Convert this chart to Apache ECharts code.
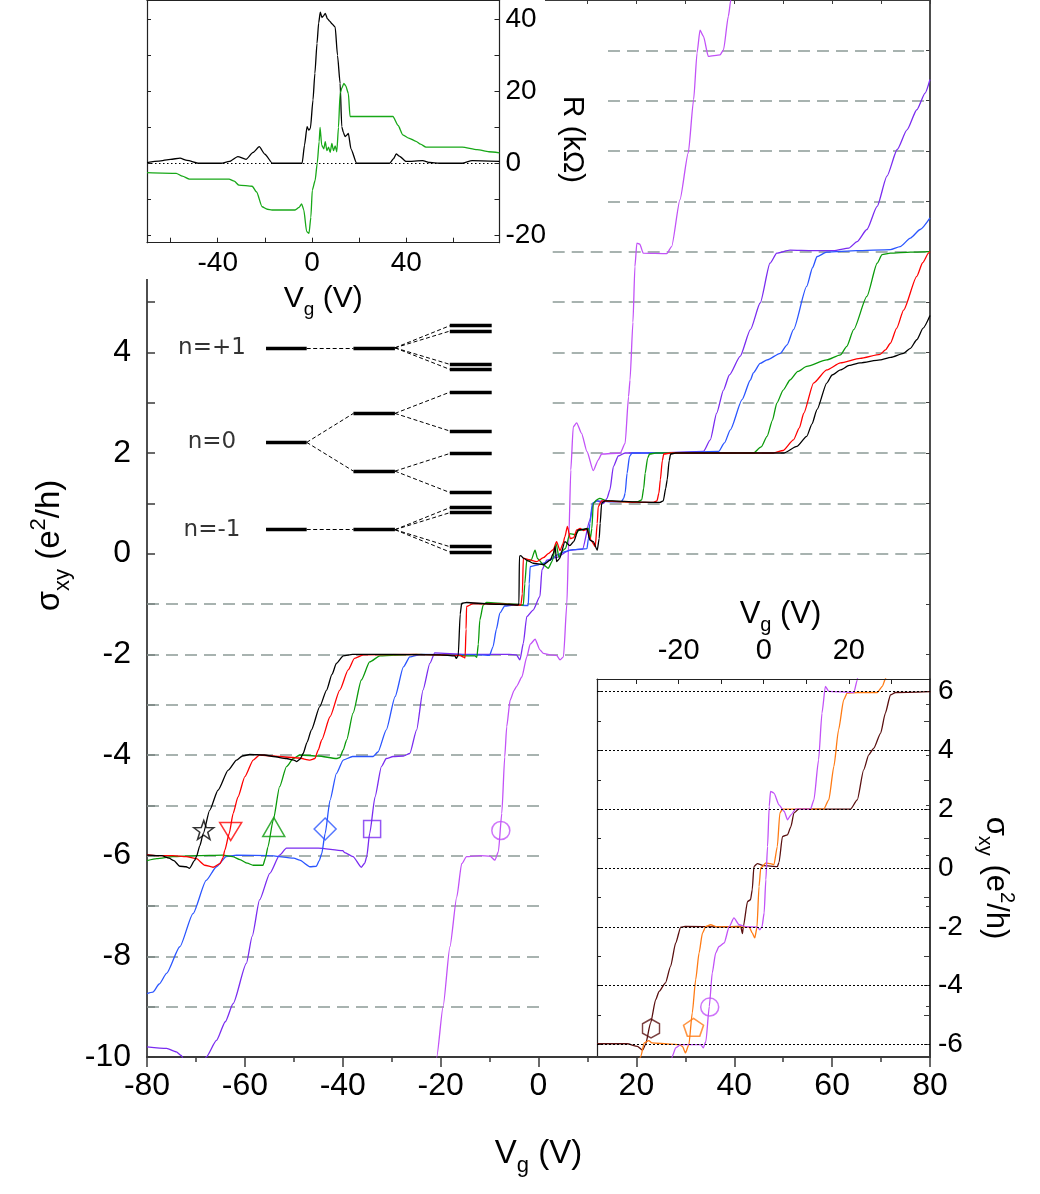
<!DOCTYPE html>
<html>
<head>
<meta charset="utf-8">
<script src="https://cdn.jsdelivr.net/npm/echarts@6/dist/echarts.min.js"></script>
<style>
  html, body { margin: 0; padding: 0; background: #fff; }
  #chart { width: 1040px; height: 1194px; }
</style>
</head>
<body>
<div id="chart"></div>
<script>
// ---------------- Hall conductivity sweeps, sigma_xy (e^2/h) vs V_g (V) ----------------
const sweepBlack = [[-80,-5.99],[-77,-6.0],[-75.5,-6.05],[-74.5,-6.1],[-73.3,-6.21],[-72,-6.22],[-71.3,-6.25],[-70.3,-6.1],[-69.9,-6.02],[-69.2,-5.8],[-68.5,-5.56],[-67.2,-5.1],[-65.5,-4.7],[-63.4,-4.3],[-61.7,-4.1],[-60.5,-4.02],[-59,-3.99],[-56,-4.0],[-54.2,-4.03],[-51.5,-4.07],[-50,-4.1],[-49.4,-4.13],[-48.7,-4.08],[-48.1,-3.97],[-47.3,-3.75],[-46.4,-3.5],[-44.7,-3.04],[-43.3,-2.71],[-42.2,-2.4],[-41.3,-2.18],[-39.9,-2.03],[-38,-2.0],[-30,-2.0],[-20,-2.01],[-17.1,-2.03],[-16.8,-2.08],[-16.4,-2.02],[-16.0,-1.2],[-15.7,-0.99],[-14.7,-0.97],[-10,-1.0],[-6,-1.01],[-4.2,-1.02],[-4.0,-1.0],[-3.9,-0.05],[-3.6,-0.04],[-3.1,-0.09],[-2,-0.15],[-1.1,-0.19],[1.0,-0.22],[2.4,-0.13],[3.0,0.0],[3.4,0.14],[3.7,-0.16],[4.3,-0.1],[5.4,0.24],[6.4,0.16],[7.2,0.24],[8.1,0.47],[9.0,0.48],[9.9,0.5],[10.5,0.27],[11.2,0.24],[12.0,0.07],[12.4,0.3],[12.6,0.6],[12.9,1.0],[13.6,1.05],[15,1.05],[20,1.03],[23.5,1.02],[24.8,1.02],[25.5,1.05],[26.0,1.3],[26.3,1.47],[26.7,1.85],[27.0,1.98],[28,2.0],[40,2.0],[48,2.0],[50.1,2.0],[52.8,2.13],[54.8,2.33],[55.9,2.58],[56.9,2.86],[58.9,3.39],[60,3.55],[61.7,3.65],[63.5,3.74],[65.7,3.79],[69.8,3.85],[72,3.9],[74.6,3.98],[76,4.08],[77.3,4.25],[78.6,4.48],[80,4.73]];
const sweepRed = [[-80,-5.98],[-78,-6.0],[-74.7,-6.0],[-72,-6.02],[-69.9,-6.06],[-68.2,-6.19],[-66.5,-6.23],[-65.1,-6.16],[-64.5,-6.05],[-64.1,-5.89],[-63.2,-5.56],[-62.4,-5.16],[-61.4,-4.83],[-60,-4.43],[-58.3,-4.1],[-57,-4.0],[-53,-4.03],[-49,-4.06],[-46.7,-4.1],[-45.7,-4.07],[-45.0,-3.9],[-44.3,-3.7],[-42.6,-3.24],[-40.6,-2.71],[-38.9,-2.31],[-37.6,-2.08],[-35.8,-2.01],[-25,-2.0],[-16,-2.02],[-15.4,-2.05],[-15.0,-2.07],[-14.8,-1.5],[-14.7,-1.05],[-13.3,-0.99],[-8,-1.0],[-3.6,-1.02],[-3.3,-0.8],[-3.1,-0.09],[-2,-0.12],[-0.4,-0.16],[1,-0.08],[2.0,0.0],[3.0,0.08],[3.7,0.24],[4.4,0.06],[5.0,0.2],[5.4,0.34],[5.9,0.54],[6.5,0.3],[7.2,0.32],[7.8,0.47],[8.5,0.5],[9.2,0.46],[9.9,0.48],[10.9,0.24],[11.6,0.14],[12.0,0.6],[12.2,0.93],[12.9,1.05],[15,1.04],[20,1.02],[23.5,1.02],[24.2,1.05],[24.6,1.2],[24.9,1.47],[25.3,1.85],[25.6,1.98],[27,2.0],[40,2.0],[48.0,2.0],[50,2.05],[52.1,2.26],[53.3,2.5],[54.2,2.79],[56.2,3.39],[58.9,3.65],[61.7,3.79],[65.7,3.88],[69.8,3.96],[70.9,4.05],[71.9,4.18],[73.2,4.48],[74.6,4.84],[77.3,5.51],[78.5,5.78],[79.7,5.97],[80,6.0]];
const sweepGreen = [[-80,-6.1],[-78,-6.06],[-74.7,-6.02],[-70,-6.0],[-64.5,-5.99],[-62.5,-6.02],[-61,-6.08],[-59.5,-6.15],[-58.3,-6.19],[-56.3,-6.19],[-55.8,-6.05],[-55.3,-5.83],[-54.2,-5.29],[-52.9,-4.63],[-51.5,-4.23],[-50.1,-4.07],[-48.8,-4.0],[-45,-4.02],[-41.3,-4.07],[-40.6,-4.05],[-39.9,-3.9],[-39.2,-3.7],[-37.9,-3.17],[-36.2,-2.51],[-34.5,-2.15],[-32.4,-2.03],[-25,-2.0],[-13,-2.03],[-12.6,-2.06],[-12.3,-1.8],[-12.0,-1.32],[-11.3,-1.02],[-10.6,-0.97],[-6,-1.0],[-3.1,-1.02],[-2.8,-0.6],[-2.4,-0.13],[-1.5,-0.13],[-0.7,0.07],[-0.2,-0.1],[1.0,-0.22],[2.0,-0.29],[2.8,-0.15],[3.6,0.2],[4.2,-0.08],[4.8,0.05],[5.5,0.1],[6.4,0.4],[7.5,0.38],[8.3,0.47],[9.2,0.48],[10.2,0.5],[10.6,0.3],[10.9,0.5],[11.2,1.0],[11.9,1.07],[12.5,1.1],[14,1.05],[18,1.03],[20.2,1.03],[21.1,1.07],[21.5,1.3],[21.8,1.6],[22.3,1.9],[22.7,1.98],[24,2.0],[40,2.0],[43.9,2.0],[45.5,2.12],[46.7,2.33],[47.8,2.65],[48.7,2.99],[50,3.25],[51.4,3.45],[53,3.62],[54.8,3.72],[58.9,3.85],[61.7,3.95],[63,4.12],[64.4,4.45],[67.1,5.11],[69.2,5.77],[70.2,5.94],[71.9,5.97],[76,5.99],[80,6.0]];
const sweepBlue = [[-80,-8.74],[-78.8,-8.71],[-77.5,-8.55],[-76,-8.34],[-73.3,-7.81],[-70.6,-7.15],[-67.9,-6.49],[-65.8,-6.22],[-63.8,-6.02],[-61.7,-5.99],[-55,-6.0],[-50,-6.05],[-48.8,-6.09],[-46.7,-6.22],[-45.4,-6.21],[-44.8,-6.1],[-44.3,-5.96],[-43.6,-5.56],[-42.6,-4.9],[-41.3,-4.37],[-39.9,-4.1],[-38,-4.03],[-33.8,-4.03],[-32.8,-3.94],[-31.1,-3.5],[-29.3,-2.84],[-27.6,-2.25],[-26.3,-2.05],[-24,-2.0],[-12,-2.01],[-10,-2.02],[-9.3,-1.85],[-8.6,-1.5],[-7.9,-1.18],[-6.9,-1.04],[-5,-1.02],[-2.1,-1.03],[-1.9,-0.6],[-1.7,-0.26],[0,-0.22],[1.0,-0.19],[2.4,-0.13],[3.7,-0.03],[5.4,0.04],[7,0.08],[9.9,0.1],[10.2,0.3],[10.5,0.6],[11.0,1.0],[12,1.05],[15,1.03],[16.9,1.03],[17.4,1.1],[17.7,1.2],[18.1,1.6],[18.6,1.93],[19.1,2.0],[25,2.0],[36.8,2.03],[38,2.2],[39.2,2.46],[41.6,3.06],[43.3,3.45],[43.9,3.59],[45.3,3.78],[46.7,3.85],[49.4,3.98],[50.8,4.15],[52.1,4.45],[54.8,5.31],[56.0,5.68],[56.9,5.9],[58.9,5.99],[65,6.02],[71.9,6.04],[73.9,6.1],[76,6.27],[78,6.44],[80,6.67]];
const sweepPurple = [[-80,-9.8],[-76,-9.83],[-74,-9.9],[-73,-9.97],[-72.3,-10.1],[-71,-10.3],[-69,-10.2],[-67.9,-10.0],[-65.8,-9.67],[-64,-9.3],[-62.4,-8.94],[-59.7,-8.14],[-58.5,-7.6],[-57,-6.88],[-54.9,-6.35],[-52.9,-5.99],[-51.5,-5.85],[-45,-5.85],[-40,-5.9],[-39.6,-5.94],[-37.9,-6.02],[-36.2,-6.23],[-35.5,-6.15],[-35.1,-6.02],[-34.5,-5.56],[-33.4,-4.83],[-32.1,-4.23],[-31.1,-4.07],[-29.7,-4.03],[-27.6,-4.02],[-26.3,-3.97],[-24.9,-3.5],[-23.6,-2.71],[-22.2,-2.18],[-21.2,-1.97],[-15,-2.0],[-6,-2.0],[-4.5,-2.01],[-3.8,-2.11],[-3.1,-1.78],[-2.4,-1.25],[-1.1,-1.12],[0.3,-0.85],[0.7,-0.32],[1.7,-0.13],[3.5,-0.08],[6.4,0.07],[9,0.09],[10.5,0.67],[11.2,1.0],[11.9,1.05],[13.3,1.0],[14.0,1.1],[14.6,1.27],[15.3,1.73],[16.3,1.94],[17.7,2.0],[25,2.0],[33.7,2.03],[35.1,2.26],[36.4,2.79],[37.8,3.25],[39,3.55],[41.2,3.92],[43.3,4.45],[45.3,4.98],[47.3,5.77],[48.7,5.97],[51.4,6.03],[56,6.02],[60.3,6.02],[63.4,6.07],[65.1,6.2],[67.1,6.44],[69.2,6.9],[71.2,7.5],[73.3,8.03],[75.3,8.42],[77.3,8.82],[79,9.15],[80,9.42]];
const sweepViolet = [[-21.1,-10.5],[-20.8,-10.0],[-19.5,-9.0],[-18.1,-7.81],[-16.7,-6.82],[-15.7,-6.16],[-14.7,-6.02],[-12,-6.0],[-9.9,-6.01],[-8.9,-6.09],[-8.2,-5.92],[-7.5,-5.16],[-6.9,-4.04],[-6.5,-3.44],[-5.8,-2.91],[-5.0,-2.72],[-4.5,-2.64],[-3.4,-2.45],[-2.4,-2.05],[-1.7,-1.8],[-0.7,-1.7],[0.3,-1.91],[1.0,-1.98],[2.4,-2.01],[3.7,-2.02],[4.4,-2.11],[5.1,-2.05],[5.8,-0.99],[6.2,0.34],[6.6,1.66],[7.1,2.52],[7.8,2.6],[8.8,2.39],[9.9,2.03],[11.2,1.65],[12.2,1.86],[12.9,1.98],[16.7,2.0],[17.7,2.19],[18.4,3.12],[18.7,3.45],[19.3,4.6],[19.7,5.7],[20.1,6.17],[20.7,6.15],[21.4,5.97],[26.2,5.96],[27.2,6.1],[28.9,7.03],[30.6,7.96],[31.7,9.02],[32.4,9.95],[33.0,10.4],[33.7,10.28],[34.7,9.88],[37.1,9.91],[37.8,10.01],[38.8,10.68],[39.3,11.0],[39.6,11.3]];

// open symbols marking each sweep
const sweepMarkerV = [-68.4, -62.9, -54.1, -43.6, -34.0, -7.7];
const sweepMarkerS = [-5.49, -5.52, -5.43, -5.47, -5.47, -5.5];

// quantized plateau guide levels and their extent along V_g
const plateauLevels = [10, 9, 8, 7, 6, 5, 4, 3, 2, 1, 0, -1, -2, -3, -4, -5, -6, -7, -8, -9];
const plateauFrom   = [14.2, 14.2, 14.2, 14.2, 2.9, 2.9, 2.9, 2.9, 2.9, 2.9, 6.9, -80, -80, -80, -80, -80, -80, -80, -80, -80];
const plateauTo     = [80, 80, 80, 80, 80, 80, 80, 80, 80, 80, 80, 8.5, 8.5, 1.0, 1.0, 1.0, 1.0, 1.0, 1.0, 1.0];
const mainTickLabels = [-10, -8, -6, -4, -2, 0, 2, 4];

// ---------------- upper inset: R (kOhm) vs V_g ----------------
const resLongitudinal = [[-70,0.2],[-65,0.6],[-60,1.1],[-56,1.4],[-53,0.8],[-48,0],[-38.6,0],[-35,0.5],[-31.5,1.85],[-28,1.1],[-25,3.0],[-22.4,4.6],[-20,2.5],[-16.8,0],[-4.2,0],[-3.2,5],[-2.1,10.2],[-1.4,9.2],[-0.7,9.7],[0.4,17.6],[1.2,25],[2.1,33.3],[2.8,39],[3.5,42],[4.2,40.5],[4.9,41],[5.6,41.7],[6.5,40.2],[7.5,39.5],[8.4,38.8],[9.8,37.9],[10.8,30],[11.9,22.2],[12.6,10.2],[13.3,8.5],[14,7.4],[14.7,7.8],[15.4,8.3],[16.5,4],[18.9,0],[32.9,0],[34.5,1.2],[35.7,2.6],[37,2.0],[39.9,0.5],[46.9,0.7],[50,0.2],[53.9,0],[63.7,0],[67.9,0.7],[79.5,0.5]];
const resHall = [[-70,-2.6],[-57.6,-2.8],[-55,-3.6],[-52,-4.4],[-35.2,-4.4],[-33,-5.0],[-31,-6.1],[-25.4,-6.4],[-23.5,-8],[-21.2,-12.1],[-19,-12.8],[-17,-13],[-7.2,-13],[-5.5,-12.3],[-4.4,-11.3],[-3.5,-13],[-2.3,-19],[-1.3,-19.5],[-0.5,-15],[0.1,-7.5],[1.3,-4.8],[2.2,0],[3.0,6],[3.4,10],[4.1,5],[5,4],[5.6,6],[6.3,3.5],[7,4.5],[7.7,3],[8.4,5.5],[9.1,3.5],[9.8,4.8],[10.5,3.2],[11.2,10],[11.9,19.4],[12.7,21],[13.5,22.2],[14.3,21.5],[15.4,19.4],[16.1,13],[20,13],[34.3,13],[36.5,10.5],[38.5,7.9],[41,7],[44.1,6.1],[46,5.3],[48.3,4.5],[63.7,4.5],[70,3.8],[75,3.2],[79.5,2.9]];
const insetTopTicks = [-60, -40, -20, 0, 20, 40, 60];
const insetTopLabels = [-40, 0, 40];
const insetTopRTicks = [-20, -10, 0, 10, 20, 30, 40];
const insetTopRLabels = [-20, 0, 20, 40];

// ---------------- lower inset: sigma_xy vs V_g ----------------
const sweepBrown = [[-39.2,-5.98],[-32.1,-5.98],[-29.7,-6.07],[-28.5,-6.2],[-27.8,-6.01],[-26.6,-5.27],[-25.4,-4.48],[-24.6,-4.2],[-23.1,-3.91],[-21.9,-3.35],[-20.7,-2.55],[-19.5,-2.01],[-18.5,-1.99],[-10,-2.0],[-5.4,-1.99],[-5.0,-2.23],[-4.8,-2.0],[-3.8,-1.14],[-3.1,-1.08],[-2.7,-0.74],[-2.3,0.05],[-1.5,0.15],[0,0.08],[3.2,0.05],[3.6,0.19],[4.4,1.07],[5.6,1.13],[6.4,1.41],[7.1,1.87],[8.2,2.0],[15,2.0],[20.4,2.0],[22,2.32],[23.5,3.34],[24.7,3.85],[25.9,4.08],[27.5,4.59],[28.6,5.27],[29.8,5.89],[31,5.97],[39.2,6.0]];
const sweepOrange = [[-29.2,-6.5],[-28.9,-6.41],[-28.1,-5.95],[-27,-5.87],[-26.3,-5.95],[-22,-5.99],[-19.9,-6.01],[-19.1,-6.07],[-18.4,-6.29],[-17.6,-6.01],[-16.8,-4.93],[-16,-3.8],[-15.2,-2.89],[-14.4,-2.21],[-13.6,-1.99],[-12.5,-1.93],[-11,-2.0],[-3.4,-2.01],[-2.7,-2.21],[-2.1,-2.38],[-1.6,-2.04],[-1.1,-0.63],[-0.7,0.0],[0.5,0.17],[1.6,0.15],[2.4,0.11],[3.2,0.73],[3.8,1.87],[4.4,2.0],[10,2.0],[14.1,2.0],[15.3,2.32],[16.5,3.46],[17.6,4.7],[18.8,5.72],[19.6,5.95],[22,5.97],[26.7,5.97],[27.9,6.18],[28.6,6.43],[29,6.6]];
const sweepViolet2 = [[-21.8,-6.6],[-21.5,-6.41],[-20.7,-6.12],[-19.5,-6.01],[-14.8,-6.01],[-14.2,-6.12],[-13.6,-5.9],[-12.8,-4.71],[-12.1,-3.57],[-11.3,-2.89],[-10.5,-2.67],[-9.3,-2.55],[-8.1,-1.99],[-7.0,-1.7],[-5.8,-1.93],[-4,-2.0],[-1.5,-2.01],[-0.9,-2.1],[-0.4,-2.0],[0.1,-1.53],[0.5,-0.4],[0.9,0.73],[1.3,2.1],[1.6,2.61],[2.4,2.55],[3.6,2.15],[4.8,1.93],[5.6,1.64],[6.4,1.81],[7.5,2.0],[11,2.0],[11.8,2.32],[12.9,3.68],[13.7,5.27],[14.5,6.18],[15.3,6.01],[21.2,5.97],[22,6.4],[22.2,6.6]];
const lowerMarkerV = [-26.5, -16.5, -12.7];
const lowerMarkerS = [-5.46, -5.42, -4.73];
const lowerLevels = [-6, -4, -2, 0, 2, 4, 6];
const lowerTicksY = [-6, -5, -4, -3, -2, -1, 0, 1, 2, 3, 4, 5, 6];
const lowerTicksX = [-30, -20, -10, 0, 10, 20, 30];
const lowerLabelsX = [-20, 0, 20];

// ---------------- Landau level splitting sketch ----------------
const levelNames = ['n=+1', 'n=0', 'n=-1'];
const levelStages = [[0, 1], [2.15, 3.17], [4.52, 5.55]];
const levelEnergies = [
  [1.04, 0, -0.96],
  [1.04, 0.319, -0.316, -0.96],
  [1.283, 1.224, 0.858, 0.803, 0.552, 0.125, -0.122, -0.551, -0.718, -0.773, -1.147, -1.205]
];
// [stage, level in stage, level in next stage]
const levelLinks = [
  [0, 0, 0], [0, 1, 1], [0, 1, 2], [0, 2, 3],
  [1, 0, 0], [1, 0, 1], [1, 0, 2], [1, 0, 3],
  [1, 1, 4], [1, 1, 5], [1, 2, 6], [1, 2, 7],
  [1, 3, 8], [1, 3, 9], [1, 3, 10], [1, 3, 11]
];

// ---------------- styling ----------------
const FONT = "'Liberation Sans', Arial, sans-serif";
const C = {
  black: '#000000', red: '#ff0000', green: '#0a9a0a', blue: '#2a55ff',
  purple: '#7a2cf0', violet: '#c252f7', orange: '#ff7b14', brown: '#5a1010', hall: '#18a818'
};

function richFor(base, small, family) {
  const pad = Math.round(base * 0.18);
  return {
    b: { fontSize: base, lineHeight: base, fontFamily: family, color: '#000', verticalAlign: 'top', padding: [pad, 0, 0, 0] },
    s: { fontSize: small, lineHeight: small, fontFamily: family, color: '#000', verticalAlign: 'top', padding: [Math.round(base * 0.72), 0, 0, 0] },
    p: { fontSize: small, lineHeight: small, fontFamily: family, color: '#000', verticalAlign: 'top', padding: [0, 0, 0, 0] }
  };
}
const VG_NAME = '{b|V}{s|g}{b| (V)}';
const SXY_NAME = '{b|σ}{s|xy}{b| (e}{p|2}{b|/h)}';

function curve(name, data, color, xi, yi) {
  return {
    name, type: 'line', data, xAxisIndex: xi, yAxisIndex: yi,
    showSymbol: false, smooth: 0.2, smoothMonotone: 'x',
    lineStyle: { color, width: 1.3 }, itemStyle: { color }, z: xi === 2 ? 11 : 3, silent: true
  };
}
function marker(v, s, symbol, size, color, xi, yi, rotate) {
  return {
    type: 'scatter', xAxisIndex: xi, yAxisIndex: yi, data: [[v, s]],
    symbol, symbolSize: size, symbolRotate: rotate || 0,
    itemStyle: { color: 'rgba(255,255,255,0)', borderColor: color, borderWidth: 1.5 },
    z: 6, silent: true
  };
}
const STAR = 'path://M0,-10L2.35,-3.24L9.51,-3.09L3.8,1.24L5.88,8.09L0,4L-5.88,8.09L-3.8,1.24L-9.51,-3.09L-2.35,-3.24Z';
const HEXAGON = 'path://M0,-10L8.66,-5L8.66,5L0,10L-8.66,5L-8.66,-5Z';
const PENTAGON = 'path://M0,-10L9.51,-3.09L5.88,8.09L-5.88,8.09L-9.51,-3.09Z';

const mainAxisLine = { show: true, onZero: false, lineStyle: { color: '#3a3a3a', width: 1.8 } };
const insetAxisLine = { show: true, onZero: false, lineStyle: { color: '#222', width: 1.2 } };

const option = {
  animation: false,
  backgroundColor: '#fff',
  graphic: [
    { type: 'rect', left: 0, top: 0, shape: { x: 0, y: 0, width: 545, height: 279 }, style: { fill: '#fff' }, z: 5, zlevel: 0 }
  ],
  grid: [
    { left: 147, top: 0, width: 783, height: 1057 },          // main
    { left: 147, top: 0, width: 352.5, height: 242.7 },       // upper inset
    { left: 597, top: 679, width: 333, height: 378 },         // lower inset
    { left: 184.7, top: 316.9, width: 307, height: 243.7 }    // level sketch
  ],
  xAxis: [
    { type: 'value', gridIndex: 0, position: 'bottom', min: -80, max: 80, interval: 20,
      axisLine: mainAxisLine, splitLine: { show: false },
      axisTick: { show: true, inside: false, length: 10, lineStyle: { color: '#3a3a3a', width: 1.5 } },
      minorTick: { show: true, splitNumber: 2, length: 5, lineStyle: { color: '#3a3a3a', width: 1.5 } },
      axisLabel: { margin: 13, fontSize: 32, fontFamily: FONT, color: '#000' },
      name: VG_NAME, nameLocation: 'middle', nameGap: 74,
      nameTextStyle: { rich: richFor(33, 22, FONT) } },
    { type: 'value', gridIndex: 0, position: 'top', min: -80, max: 80, interval: 10,
      axisLine: mainAxisLine, splitLine: { show: false },
      axisTick: { show: true, inside: true, length: 4, lineStyle: { color: '#3a3a3a' } },
      axisLabel: { show: false } },
    { type: 'value', gridIndex: 1, position: 'bottom', min: -70, max: 79.5,
      axisLine: insetAxisLine, splitLine: { show: false }, z: 10,
      axisTick: { show: true, inside: true, length: 5, customValues: insetTopTicks, lineStyle: { color: '#222' } },
      axisLabel: { margin: 7, fontSize: 28, fontFamily: FONT, color: '#000', customValues: insetTopLabels },
      name: VG_NAME, nameLocation: 'middle', nameGap: 23,
      nameTextStyle: { rich: richFor(30, 19, FONT) } },
    { type: 'value', gridIndex: 1, position: 'top', min: -70, max: 79.5, z: 10,
      axisLine: insetAxisLine, splitLine: { show: false }, axisTick: { show: false }, axisLabel: { show: false } },
    { type: 'value', gridIndex: 2, position: 'top', min: -39.2, max: 39.1,
      axisLine: insetAxisLine, splitLine: { show: false }, z: 10,
      axisTick: { show: true, inside: true, length: 5, customValues: lowerTicksX, lineStyle: { color: '#222' } },
      axisLabel: { margin: 14, fontSize: 29, fontFamily: FONT, color: '#000', customValues: lowerLabelsX },
      name: VG_NAME, nameLocation: 'middle', nameGap: 44,
      nameTextStyle: { rich: richFor(31, 20, FONT), padding: [0, 0, 0, 34] } },
    { type: 'value', gridIndex: 3, min: -2, max: 5.55, show: false }
  ],
  yAxis: [
    { type: 'value', gridIndex: 0, position: 'left', min: -10, max: 11, interval: 1,
      axisLine: mainAxisLine, splitLine: { show: false },
      axisTick: { show: true, inside: true, length: 8, lineStyle: { color: '#3a3a3a', width: 1.5 } },
      axisLabel: { margin: 16, fontSize: 32, fontFamily: FONT, color: '#000',
        formatter: v => (mainTickLabels.indexOf(v) >= 0 ? String(v) : '') },
      name: SXY_NAME, nameLocation: 'middle', nameGap: 80, nameRotate: 90,
      nameTextStyle: { rich: richFor(33, 22, FONT), padding: [0, 34, 0, 0] } },
    { type: 'value', gridIndex: 0, position: 'right', min: -10, max: 11, interval: 1,
      axisLine: mainAxisLine, splitLine: { show: false },
      axisTick: { show: true, inside: true, length: 4, lineStyle: { color: '#3a3a3a' } },
      axisLabel: { show: false } },
    { type: 'value', gridIndex: 1, position: 'left', min: -22.1, max: 45.4, z: 10,
      axisLine: insetAxisLine, splitLine: { show: false },
      axisTick: { show: true, inside: true, length: 4, customValues: insetTopRTicks, lineStyle: { color: '#222' } },
      axisLabel: { show: false } },
    { type: 'value', gridIndex: 1, position: 'right', min: -22.1, max: 45.4, z: 10,
      axisLine: insetAxisLine, splitLine: { show: false },
      axisTick: { show: true, inside: true, length: 5, customValues: insetTopRTicks, lineStyle: { color: '#222' } },
      axisLabel: { margin: 6, fontSize: 28, fontFamily: FONT, color: '#000', customValues: insetTopRLabels },
      name: 'R (kΩ)', nameLocation: 'middle', nameGap: 58, nameRotate: -90,
      nameTextStyle: { fontSize: 30, fontFamily: FONT, color: '#000', padding: [0, 0, 0, 36] } },
    { type: 'value', gridIndex: 2, position: 'left', min: -6.43, max: 6.43,
      axisLine: insetAxisLine, splitLine: { show: false },
      axisTick: { show: true, inside: true, length: 4, customValues: lowerTicksY, lineStyle: { color: '#222' } },
      axisLabel: { show: false } },
    { type: 'value', gridIndex: 2, position: 'right', min: -6.43, max: 6.43,
      axisLine: mainAxisLine, splitLine: { show: false },
      axisTick: { show: true, inside: true, length: 6, customValues: lowerTicksY, lineStyle: { color: '#3a3a3a' } },
      axisLabel: { margin: 8, fontSize: 28, fontFamily: FONT, color: '#000', customValues: lowerLevels },
      name: SXY_NAME, nameLocation: 'middle', nameGap: 56, nameRotate: -90,
      nameTextStyle: { rich: richFor(31, 20, FONT), padding: [0, 0, 0, 20] } },
    { type: 'value', gridIndex: 3, min: -1.3, max: 1.38, show: false }
  ],
  series: []
};

const S = option.series;

// plateau guides
S.push({
  type: 'lines', coordinateSystem: 'cartesian2d', xAxisIndex: 0, yAxisIndex: 0, silent: true, z: 1,
  lineStyle: { color: '#8c9a97', width: 1.6, type: [12, 7], opacity: 1 },
  data: plateauLevels.map((v, i) => ({ coords: [[plateauFrom[i], v], [plateauTo[i], v]] }))
});

// main sweeps
S.push(curve('violet', sweepViolet, C.violet, 0, 0));
S.push(curve('purple', sweepPurple, C.purple, 0, 0));
S.push(curve('blue', sweepBlue, C.blue, 0, 0));
S.push(curve('green', sweepGreen, C.green, 0, 0));
S.push(curve('red', sweepRed, C.red, 0, 0));
S.push(curve('black', sweepBlack, C.black, 0, 0));

S.push(marker(sweepMarkerV[0], sweepMarkerS[0], STAR, [20, 19], C.black, 0, 0));
S.push(marker(sweepMarkerV[1], sweepMarkerS[1], 'triangle', [22, 18], C.red, 0, 0, 180));
S.push(marker(sweepMarkerV[2], sweepMarkerS[2], 'triangle', [22, 19], C.green, 0, 0));
S.push(marker(sweepMarkerV[3], sweepMarkerS[3], 'diamond', [22, 22], C.blue, 0, 0));
S.push(marker(sweepMarkerV[4], sweepMarkerS[4], 'rect', [17, 17], C.purple, 0, 0));
S.push(marker(sweepMarkerV[5], sweepMarkerS[5], 'circle', [18, 18], C.violet, 0, 0));

// upper inset
const zeroLine = {
  silent: true, symbol: ['none', 'none'], label: { show: false },
  lineStyle: { color: '#000', width: 1, type: [1.5, 2.5] }, data: [{ yAxis: 0 }]
};
S.push(Object.assign(curve('Rxx', resLongitudinal, C.black, 2, 2), { markLine: zeroLine }));
S.push(curve('Rxy', resHall, C.hall, 2, 2));

// lower inset
S.push(Object.assign(curve('brown', sweepBrown, C.brown, 4, 5), {
  markLine: {
    silent: true, symbol: ['none', 'none'], label: { show: false },
    lineStyle: { color: '#000', width: 1, type: [2, 2] },
    data: lowerLevels.map(v => ({ yAxis: v }))
  }
}));
S.push(curve('orange', sweepOrange, C.orange, 4, 5));
S.push(curve('violet2', sweepViolet2, C.violet, 4, 5));
S.push(marker(lowerMarkerV[0], lowerMarkerS[0], HEXAGON, [17, 19], C.brown, 4, 5));
S.push(marker(lowerMarkerV[1], lowerMarkerS[1], PENTAGON, [20, 18], C.orange, 4, 5));
S.push(marker(lowerMarkerV[2], lowerMarkerS[2], 'circle', [18, 18], C.violet, 4, 5));

// level sketch: thick levels, dashed splittings, labels
const levelBars = [];
levelEnergies.forEach((list, st) => list.forEach(e => {
  levelBars.push({ coords: [[levelStages[st][0], e], [levelStages[st][1], e]] });
}));
S.push({
  type: 'lines', coordinateSystem: 'cartesian2d', xAxisIndex: 5, yAxisIndex: 6, silent: true, z: 4,
  lineStyle: { color: '#000', width: 3.4, opacity: 1 }, data: levelBars
});
S.push({
  type: 'lines', coordinateSystem: 'cartesian2d', xAxisIndex: 5, yAxisIndex: 6, silent: true, z: 4,
  lineStyle: { color: '#000', width: 1, type: [4, 2.5], opacity: 1 },
  data: levelLinks.map(([st, a, b]) => ({
    coords: [[levelStages[st][1], levelEnergies[st][a]], [levelStages[st + 1][0], levelEnergies[st + 1][b]]]
  }))
});
S.push({
  type: 'scatter', xAxisIndex: 5, yAxisIndex: 6, silent: true, symbolSize: 0, z: 4,
  data: levelNames.map((n, i) => ({ value: [-1.33, levelEnergies[0][i]], name: n })),
  label: { show: true, position: 'inside', formatter: p => p.name, fontSize: 23,
    fontFamily: "'DejaVu Sans', sans-serif", color: '#000' }
});

const chart = echarts.init(document.getElementById('chart'), null, { renderer: 'canvas' });
chart.setOption(option);
</script>
</body>
</html>
